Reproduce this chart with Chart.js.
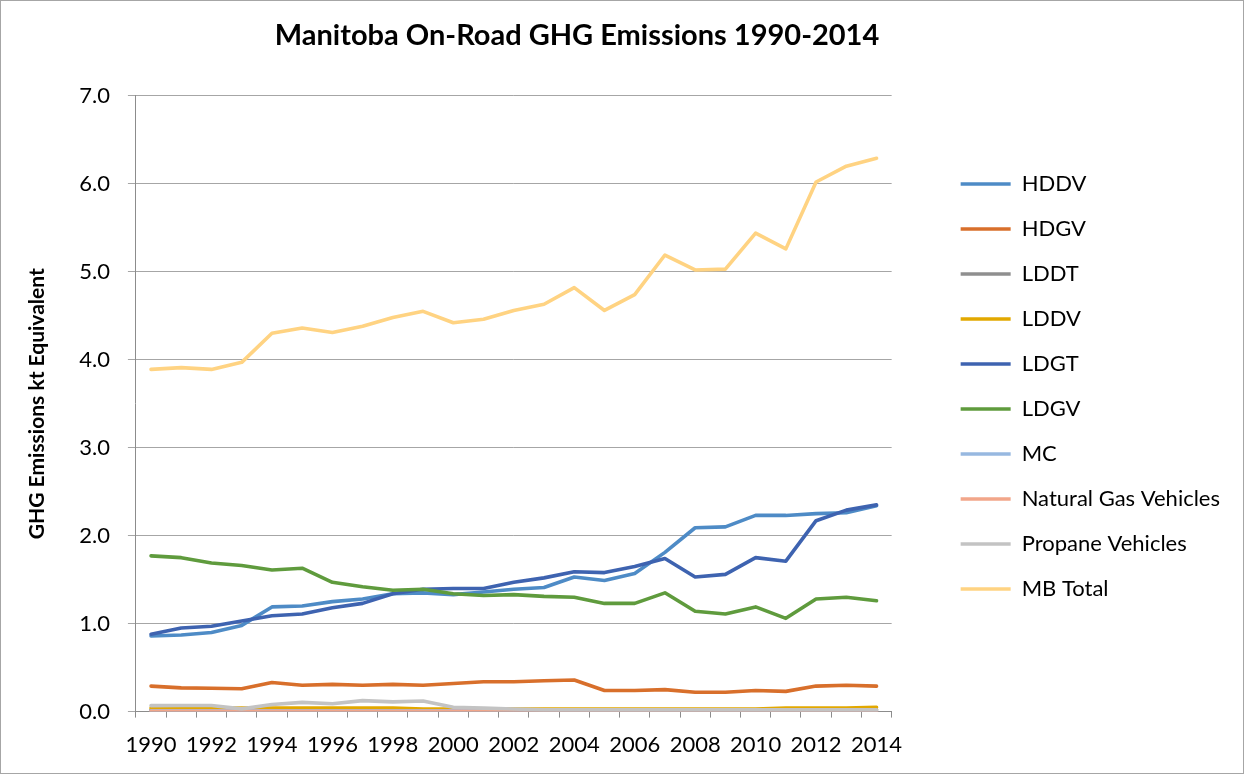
<!DOCTYPE html>
<html>
<head>
<meta charset="utf-8">
<script src="https://cdn.jsdelivr.net/npm/chart.js@4/dist/chart.umd.min.js"></script>
<style>
  body { margin: 0; background: #fff; }
  #wrap { width: 1244px; height: 774px; box-sizing: border-box; border: 1px solid #a6a6a6; }
  #wrap canvas { display: block; }
</style>
</head>
<body>
<div id="wrap"><canvas id="ghg" width="1242" height="772"></canvas></div>
<script>
var years = [1990,1991,1992,1993,1994,1995,1996,1997,1998,1999,2000,2001,2002,
             2003,2004,2005,2006,2007,2008,2009,2010,2011,2012,2013,2014];

var hddv = [0.86,0.87,0.90,0.98,1.19,1.20,1.25,1.28,1.34,1.35,1.33,1.36,1.39,
            1.41,1.53,1.49,1.57,1.81,2.09,2.10,2.23,2.23,2.25,2.26,2.34];
var hdgv = [0.29,0.27,0.265,0.26,0.33,0.30,0.31,0.30,0.31,0.30,0.32,0.34,0.34,
            0.35,0.36,0.24,0.24,0.25,0.22,0.22,0.24,0.23,0.29,0.30,0.29];
var lddt = [0.02,0.02,0.02,0.02,0.02,0.02,0.02,0.02,0.02,0.02,0.02,0.02,0.02,
            0.02,0.02,0.02,0.02,0.02,0.02,0.02,0.02,0.02,0.02,0.02,0.02];
var lddv = [0.04,0.04,0.04,0.04,0.04,0.04,0.04,0.04,0.04,0.03,0.03,0.03,0.03,
            0.03,0.03,0.03,0.03,0.03,0.03,0.03,0.03,0.04,0.04,0.04,0.05];
var ldgt = [0.88,0.95,0.97,1.03,1.09,1.11,1.18,1.23,1.34,1.39,1.40,1.40,1.47,
            1.52,1.59,1.58,1.65,1.74,1.53,1.56,1.75,1.71,2.17,2.29,2.35];
var ldgv = [1.77,1.75,1.69,1.66,1.61,1.63,1.47,1.42,1.38,1.39,1.34,1.32,1.33,
            1.31,1.30,1.23,1.23,1.35,1.14,1.11,1.19,1.06,1.28,1.30,1.26];
var mc   = [0.01,0.01,0.01,0.01,0.01,0.01,0.01,0.01,0.01,0.01,0.01,0.01,0.01,
            0.01,0.01,0.01,0.01,0.01,0.01,0.01,0.01,0.01,0.01,0.01,0.01];
var natGas = [0.004,0.004,0.004,0.004,0.004,0.004,0.004,0.004,0.004,0.004,0.004,0.004,0.004,
              0.003,0.003,0.003,0.003,0.003,0.003,0.003,0.003,0.003,0.003,0.003,0.003];
var propane = [0.068,0.07,0.07,0.031,0.08,0.105,0.09,0.125,0.11,0.12,0.05,0.04,0.03,
               0.02,0.02,0.02,0.02,0.02,0.02,0.02,0.02,0.02,0.02,0.02,0.02];
var mbTotal = [3.89,3.91,3.89,3.97,4.30,4.36,4.31,4.38,4.48,4.55,4.42,4.46,4.56,
               4.63,4.82,4.56,4.74,5.19,5.02,5.03,5.44,5.26,6.02,6.20,6.29];

var seriesNames = ["HDDV","HDGV","LDDT","LDDV","LDGT","LDGV","MC",
                   "Natural Gas Vehicles","Propane Vehicles","MB Total"];
var seriesData = [hddv, hdgv, lddt, lddv, ldgt, ldgv, mc, natGas, propane, mbTotal];
var seriesColors = ["#4e8bc6","#d86f2b","#8f8f8f","#e2a800","#3e63b0",
                    "#5f9b3d","#97b8e0","#f2a68a","#c3c3c3","#ffd382"];

var yTicks = [0,1,2,3,4,5,6,7];
var font = "Lato";
var titleCenter = 577;

var datasets = seriesNames.map(function(name, i){
  return {
    label: name,
    data: seriesData[i],
    borderColor: seriesColors[i],
    backgroundColor: seriesColors[i],
    borderWidth: 3.6,
    pointRadius: 0,
    pointHoverRadius: 0,
    tension: 0,
    fill: false,
    borderJoinStyle: "round",
    borderCapStyle: "round",
    order: seriesNames.length - i
  };
});

// keep the title centred where the original has it
var shiftTitle = {
  id: "shiftTitle",
  afterLayout: function(chart){
    var t = chart.titleBlock;
    if (!t) return;
    var half = (t.right - t.left) / 2;
    t.left = titleCenter - 1 - half;
    t.right = titleCenter - 1 + half;
  }
};

new Chart(document.getElementById("ghg"), {
  type: "line",
  data: { labels: years, datasets: datasets },
  options: {
    responsive: false,
    animation: false,
    layout: { padding: { left: 10, right: 13, top: 0, bottom: 1 } },
    plugins: {
      tooltip: { enabled: false },
      title: {
        display: true,
        text: "Manitoba On-Road GHG Emissions 1990-2014",
        color: "#000",
        font: { family: font, size: 29, weight: "bold" },
        padding: { top: 17, bottom: 43 }
      },
      legend: {
        position: "right",
        reverse: true,
        maxWidth: 320,
        labels: {
          usePointStyle: true,
          pointStyle: "line",
          pointStyleWidth: 50,
          color: "#000",
          padding: 23,
          font: { family: font, size: 22 }
        }
      }
    },
    scales: {
      x: {
        type: "category",
        offset: true,
        grid: {
          display: true,
          offset: true,
          drawOnChartArea: false,
          drawTicks: true,
          tickLength: 6,
          color: "#8c8c8c"
        },
        border: { display: true, color: "#8c8c8c", width: 1 },
        ticks: {
          autoSkip: false,
          maxRotation: 0,
          padding: 14,
          color: "#000",
          font: { family: font, size: 22 },
          callback: function(v, i){ return i % 2 === 0 ? String(years[i]) : ""; }
        }
      },
      y: {
        min: yTicks[0],
        max: yTicks[yTicks.length - 1],
        afterBuildTicks: function(s){ s.ticks = yTicks.map(function(v){ return { value: v }; }); },
        grid: { color: "#a6a6a6", lineWidth: 1, tickLength: 8 },
        border: { display: true, color: "#8c8c8c", width: 1 },
        ticks: {
          padding: 18,
          color: "#000",
          font: { family: font, size: 22 },
          callback: function(v){ return Number(v).toFixed(1); }
        },
        title: {
          display: true,
          text: "GHG Emissions kt Equivalent",
          color: "#000",
          font: { family: font, size: 21, weight: "bold" },
          padding: { top: 14, bottom: 11 }
        }
      },
      spacer: {
        position: "right",
        display: true,
        grid: { display: false },
        border: { display: false },
        ticks: { display: false },
        afterFit: function(s){ s.width = 46; }
      }
    }
  },
  plugins: [shiftTitle]
});
</script>
</body>
</html>
